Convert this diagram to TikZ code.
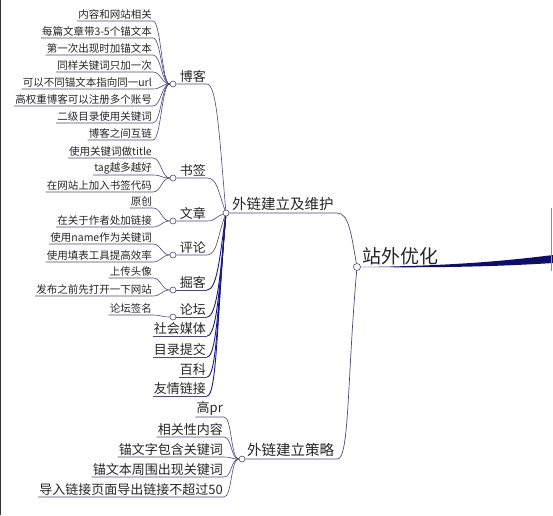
\documentclass[tikz,border=0pt]{standalone}
\usepackage{fontspec}
\newfontfamily\cjk{Noto Sans CJK SC}
\definecolor{lineagris}{HTML}{4A4A7A}
\definecolor{lineaazul}{HTML}{1A1A80}
\definecolor{raizazul}{HTML}{0E0E6A}
\definecolor{bordeazul}{HTML}{7090C0}
\begin{document}
\begin{tikzpicture}[x=1pt, y=1pt,
    linea/.style={draw=lineagris, line width=0.6pt, out distance=8pt, in distance=8pt},
    rama/.style={draw=lineaazul, line width=0.9pt, out distance=10pt},
    punto/.style={circle, draw=lineagris, fill=white, line width=0.6pt, inner sep=0pt, minimum size=6pt},
    hoja/.style={anchor=south east, inner xsep=1pt, inner ysep=1pt, text=black!85, font=\cjk\fontsize{10.5}{12}\selectfont},
    hojag/.style={hoja, font=\cjk\fontsize{13}{15}\selectfont},
    tema/.style={anchor=south east, inner xsep=1pt, inner ysep=1.5pt, text=black!85, font=\cjk\fontsize{13}{15}\selectfont},
    titulo/.style={anchor=south west, inner xsep=3pt, inner ysep=2pt, text=black!85, font=\cjk\fontsize{14.5}{17}\selectfont}]

    % === FONDO ===
    \useasboundingbox (0,0) rectangle (553,-515);
    \fill[white] (0,0) rectangle (553,-515);
    \draw[black!80, line width=1pt] (0.5,0) -- (0.5,-515);

    % === RAIZ: 站外优化 ===
    \node[punto, minimum size=7pt] (cRaiz) at (357,-267) {};
    \node[titulo, font=\cjk\fontsize{19}{22}\selectfont] (tRaiz) at (359,-267) {站外优化};
    \coordinate (bordeA) at (553,-255);
    \coordinate (bordeB) at (553,-263);
    \fill[raizazul] (cRaiz.east) .. controls (450,-266) and (505,-261) .. (bordeA)
        -- (bordeB) .. controls (505,-266) and (450,-268) .. (cRaiz.east);
    \draw[bordeazul, line width=1pt] (551.5,-208) -- (551.5,-271);

    % === RAMA 1: 外链建立及维护 ===
    \node[punto] (cMant) at (226,-213) {};
    \node[titulo] (tMant) at (229,-213) {外链建立及维护};
    \draw[linea, line width=0.7pt] (cMant) -- (tMant.south east)
        to[out=0, in=100, out distance=12pt, in distance=30pt] (cRaiz);

    % === RAMA 2: 外链建立策略 ===
    \node[punto] (cEst) at (242,-459) {};
    \node[titulo] (tEst) at (244,-459) {外链建立策略};
    \draw[linea, line width=0.7pt] (cEst) -- (tEst.south east)
        to[out=0, in=265, out distance=12pt, in distance=110pt] (cRaiz);

    % --- 博客 ---
    \node[punto] (cBlog) at (173,-84) {};
    \node[tema] (tBlog) at (207,-84) {博客};
    \draw[linea] (cBlog) -- (tBlog.south east) to[out=0, in=95, out distance=10pt, in distance=70pt] (cMant);
    \node[hoja] (b1) at (153,-21) {内容和网站相关};
    \node[hoja] (b2) at (153,-38) {每篇文章带3-5个锚文本};
    \node[hoja] (b3) at (153,-55) {第一次出现时加锚文本};
    \node[hoja] (b4) at (153,-72) {同样关键词只加一次};
    \node[hoja] (b5) at (153,-89) {可以不同锚文本指向同一url};
    \node[hoja] (b6) at (153,-106) {高权重博客可以注册多个账号};
    \node[hoja] (b7) at (153,-123) {二级目录使用关键词};
    \node[hoja] (b8) at (153,-140) {博客之间互链};
    \draw[linea] (b1.south west) -- (b1.south east) to[out=0, in=180] (cBlog);
    \draw[linea] (b2.south west) -- (b2.south east) to[out=0, in=180] (cBlog);
    \draw[linea] (b3.south west) -- (b3.south east) to[out=0, in=180] (cBlog);
    \draw[linea] (b4.south west) -- (b4.south east) to[out=0, in=180] (cBlog);
    \draw[linea] (b5.south west) -- (b5.south east) to[out=0, in=180] (cBlog);
    \draw[linea] (b6.south west) -- (b6.south east) to[out=0, in=180] (cBlog);
    \draw[linea] (b7.south west) -- (b7.south east) to[out=0, in=180] (cBlog);
    \draw[linea] (b8.south west) -- (b8.south east) to[out=0, in=180] (cBlog);

    % --- 书签 ---
    \node[punto] (cMarc) at (173,-178) {};
    \node[tema] (tMarc) at (207,-178) {书签};
    \draw[linea] (cMarc) -- (tMarc.south east) to[out=0, in=110, out distance=10pt, in distance=20pt] (cMant);
    \node[hoja] (m1) at (153,-158) {使用关键词做title};
    \node[hoja] (m2) at (153,-175) {tag越多越好};
    \node[hoja] (m3) at (153,-192) {在网站上加入书签代码};
    \draw[linea] (m1.south west) -- (m1.south east) to[out=0, in=180] (cMarc);
    \draw[linea] (m2.south west) -- (m2.south east) to[out=0, in=180] (cMarc);
    \draw[linea] (m3.south west) -- (m3.south east) to[out=0, in=180] (cMarc);

    % --- 文章 ---
    \node[punto] (cArt) at (173,-221) {};
    \node[tema] (tArt) at (207,-221) {文章};
    \draw[linea] (cArt) -- (tArt.south east) to[out=0, in=200, out distance=8pt, in distance=8pt] (cMant);
    \node[hoja] (a1) at (153,-208) {原创};
    \node[hoja] (a2) at (153,-227) {在关于作者处加链接};
    \draw[linea] (a1.south west) -- (a1.south east) to[out=0, in=180] (cArt);
    \draw[linea] (a2.south west) -- (a2.south east) to[out=0, in=180] (cArt);

    % --- 评论 ---
    \node[punto] (cCom) at (173,-255) {};
    \node[tema] (tCom) at (207,-255) {评论};
    \draw[linea] (cCom) -- (tCom.south east) to[out=0, in=250, out distance=10pt, in distance=22pt] (cMant);
    \node[hoja] (p1) at (153,-244) {使用name作为关键词};
    \node[hoja] (p2) at (153,-262) {使用填表工具提高效率};
    \draw[linea] (p1.south west) -- (p1.south east) to[out=0, in=180] (cCom);
    \draw[linea] (p2.south west) -- (p2.south east) to[out=0, in=180] (cCom);

    % --- 掘客 ---
    \node[punto] (cDig) at (173,-290) {};
    \node[tema] (tDig) at (207,-290) {掘客};
    \draw[linea] (cDig) -- (tDig.south east);
    \draw[rama] (tDig.south east) to[out=0, in=262, in distance=42pt] (cMant);
    \node[hoja] (d1) at (153,-278) {上传头像};
    \node[hoja] (d2) at (153,-296) {发布之前先打开一下网站};
    \draw[linea] (d1.south west) -- (d1.south east) to[out=0, in=180] (cDig);
    \draw[linea] (d2.south west) -- (d2.south east) to[out=0, in=180] (cDig);

    % --- 论坛 ---
    \node[punto] (cFor) at (173,-317) {};
    \node[tema] (tFor) at (207,-317) {论坛};
    \draw[linea] (cFor) -- (tFor.south east);
    \draw[rama] (tFor.south east) to[out=0, in=265, in distance=57pt] (cMant);
    \node[hoja] (f1) at (153,-315) {论坛签名};
    \draw[linea] (f1.south west) -- (f1.south east) to[out=0, in=180] (cFor);

    % --- ramas sin hojas ---
    \node[tema] (tSoc) at (207,-336) {社会媒体};
    \node[tema] (tDir) at (207,-357) {目录提交};
    \node[tema] (tEnc) at (207,-377) {百科};
    \node[tema] (tAmi) at (207,-396) {友情链接};
    \draw[linea] (tSoc.south west) -- (tSoc.south east);
    \draw[linea] (tDir.south west) -- (tDir.south east);
    \draw[linea] (tEnc.south west) -- (tEnc.south east);
    \draw[linea] (tAmi.south west) -- (tAmi.south east);
    \draw[rama] (tSoc.south east) to[out=0, in=265, in distance=68pt] (cMant);
    \draw[rama] (tDir.south east) to[out=0, in=265, in distance=80pt] (cMant);
    \draw[rama] (tEnc.south east) to[out=0, in=265, in distance=90pt] (cMant);
    \draw[rama] (tAmi.south east) to[out=0, in=265, in distance=100pt] (cMant);

    % --- hojas de 外链建立策略 ---
    \node[hojag] (e1) at (224,-417) {高pr};
    \node[hojag] (e2) at (224,-437) {相关性内容};
    \node[hojag] (e3) at (224,-457) {锚文字包含关键词};
    \node[hojag] (e4) at (224,-477) {锚文本周围出现关键词};
    \node[hojag] (e5) at (224,-497) {导入链接页面导出链接不超过50};
    \draw[linea] (e1.south west) -- (e1.south east) to[out=0, in=180] (cEst);
    \draw[linea] (e2.south west) -- (e2.south east) to[out=0, in=180] (cEst);
    \draw[linea] (e3.south west) -- (e3.south east) to[out=0, in=180] (cEst);
    \draw[linea] (e4.south west) -- (e4.south east) to[out=0, in=180] (cEst);
    \draw[linea] (e5.south west) -- (e5.south east) to[out=0, in=180] (cEst);

\end{tikzpicture}
\end{document}
